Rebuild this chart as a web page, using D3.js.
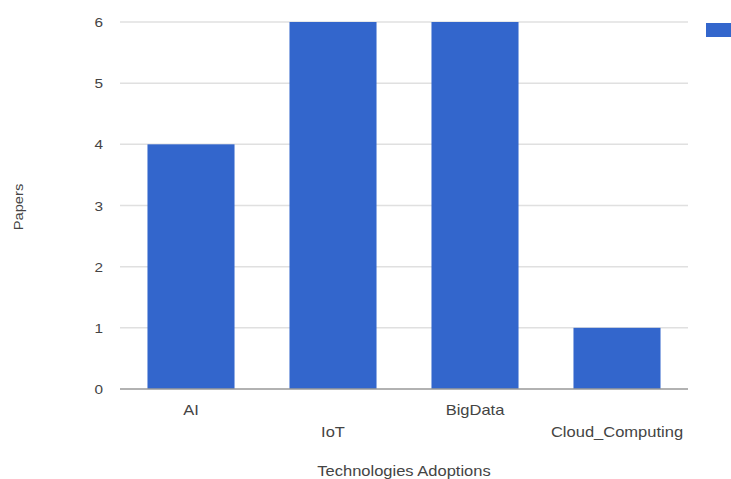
<!DOCTYPE html>
<html>
<head>
<meta charset="utf-8">
<script src="https://cdn.jsdelivr.net/npm/d3@7"></script>
<style>
  html, body { margin: 0; padding: 0; background: #fff; overflow: hidden; }
  text { font-family: Arial, "Liberation Sans", sans-serif; fill: #444; }
</style>
</head>
<body>
<svg id="chart" width="731" height="479"></svg>
<script>
// Papers per technology
const categories = ["AI", "IoT", "BigData", "Cloud_Computing"];
const papers = [4, 6, 6, 1];
const yTicks = [0, 1, 2, 3, 4, 5, 6];
const xTitle = "Technologies Adoptions";
const yTitle = "Papers";

const svg = d3.select("#chart");
const plot = { left: 120, right: 688, top: 22, bottom: 389 };
const barColor = "#3366cc";
const textStretch = 1.18; // wide glyphs

const x = d3.scaleBand()
  .domain(categories)
  .range([plot.left, plot.right])
  .paddingInner(0.387)
  .paddingOuter(0.1935);

const y = d3.scaleLinear()
  .domain([0, 6])
  .range([plot.bottom, plot.top]);

function stretchedText(g, tx, ty, str, anchor, size, rotate) {
  return g.append("text")
    .attr("transform", `translate(${tx},${ty})` + (rotate ? ` rotate(${rotate})` : "") + ` scale(${textStretch},1)`)
    .attr("text-anchor", anchor)
    .attr("font-size", size)
    .text(str);
}

// gridlines
svg.append("g")
  .selectAll("line")
  .data(yTicks.filter(d => d > 0))
  .join("line")
  .attr("x1", plot.left).attr("x2", plot.right)
  .attr("y1", d => y(d)).attr("y2", d => y(d))
  .attr("stroke", "#e0e0e0").attr("stroke-width", 1.5);

// bars
svg.append("g")
  .selectAll("rect")
  .data(categories)
  .join("rect")
  .attr("x", d => x(d))
  .attr("width", x.bandwidth())
  .attr("y", (d, i) => y(papers[i]))
  .attr("height", (d, i) => y(0) - y(papers[i]))
  .attr("fill", barColor);

// baseline
svg.append("line")
  .attr("x1", plot.left).attr("x2", plot.right)
  .attr("y1", y(0)).attr("y2", y(0))
  .attr("stroke", "#999").attr("stroke-width", 1.5);

// y tick labels
const yAxisG = svg.append("g");
yTicks.forEach(t => {
  stretchedText(yAxisG, 103, y(t) + 5, d3.format("d")(t), "end", 13);
});

// x tick labels, staggered on two rows
const xAxisG = svg.append("g");
categories.forEach((c, i) => {
  const cx = x(c) + x.bandwidth() / 2;
  stretchedText(xAxisG, cx, i % 2 === 0 ? 415 : 437, c, "middle", 14);
});

// axis titles
stretchedText(svg, (plot.left + plot.right) / 2, 476, xTitle, "middle", 14);
stretchedText(svg, 23, 207, yTitle, "middle", 12.5, -90);

// legend swatch
svg.append("rect")
  .attr("x", 706).attr("y", 23)
  .attr("width", 30).attr("height", 14)
  .attr("fill", barColor);
</script>
</body>
</html>
